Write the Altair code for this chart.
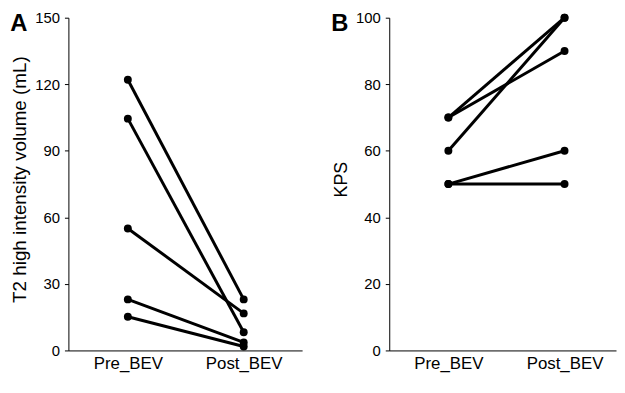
import altair as alt
import pandas as pd

times = ["Pre_BEV", "Post_BEV"]
vol_pre = [122, 104.5, 55, 23, 15.2]
vol_post = [23, 8.2, 16.7, 3.6, 1.8]
kps_pre = [70, 70, 60, 50, 50]
kps_post = [100, 90, 100, 60, 50]

FONT = "Liberation Sans"
H = 336


def long(pre, post):
    rows = []
    for i, (a, b) in enumerate(zip(pre, post)):
        rows.append({"subject": i, "t": 0, "time": times[0], "value": a})
        rows.append({"subject": i, "t": 1, "time": times[1], "value": b})
    return pd.DataFrame(rows)


label_expr = "datum.value == 0 ? '%s' : '%s'" % (times[0], times[1])

AX = dict(domainColor="black", domainWidth=1, tickColor="black", tickWidth=1,
          labelColor="black", titleColor="black", labelFont=FONT, titleFont=FONT,
          grid=False)


def panel(df, letter, ytitle, ymax, ystep, width, xdom, tsize):
    x = alt.X(
        "t:Q",
        scale=alt.Scale(domain=xdom, nice=False, zero=False),
        axis=alt.Axis(values=[0, 1], labelExpr=label_expr, ticks=False, title=None,
                      labelFontSize=17, labelPadding=5, **AX),
    )
    y = alt.Y(
        "value:Q",
        scale=alt.Scale(domain=[0, ymax], nice=False),
        axis=alt.Axis(values=list(range(0, ymax + 1, ystep)), title=ytitle,
                      labelFontSize=15, tickSize=4, labelPadding=5,
                      titleFontSize=tsize, titleFontWeight="normal", titlePadding=5,
                      titleY=H / 2 - 5, **AX),
    )
    base = alt.Chart(df).encode(x=x, y=y, detail="subject:N")
    lines = base.mark_line(color="black", strokeWidth=3)
    pts = base.mark_circle(color="black", size=64, opacity=1)
    lab = alt.Chart(pd.DataFrame({"lab": [letter]})).mark_text(
        fontSize=24, fontWeight="bold", align="center", baseline="alphabetic", font=FONT,
        color="black"
    ).encode(text="lab:N", x=alt.value(-50), y=alt.value(13))
    return alt.layer(lines, pts, lab).properties(
        width=width, height=H, view=alt.ViewBackground(stroke="transparent")
    )


a = panel(long(vol_pre, vol_post), "A", "T2 high intensity volume (mL)", 150, 30, 236,
          [-0.513, 1.504], 19)
b = panel(long(kps_pre, kps_post), "B", "KPS", 100, 20, 229, [-0.509, 1.443], 18)

chart = alt.hconcat(a, b, spacing=27).properties(
    padding={"left": 1, "top": 0, "right": 0, "bottom": 0},
    background="white",
).configure_view(stroke="transparent")

chart.save("out.html", embed_options={"renderer": "svg", "actions": False})
